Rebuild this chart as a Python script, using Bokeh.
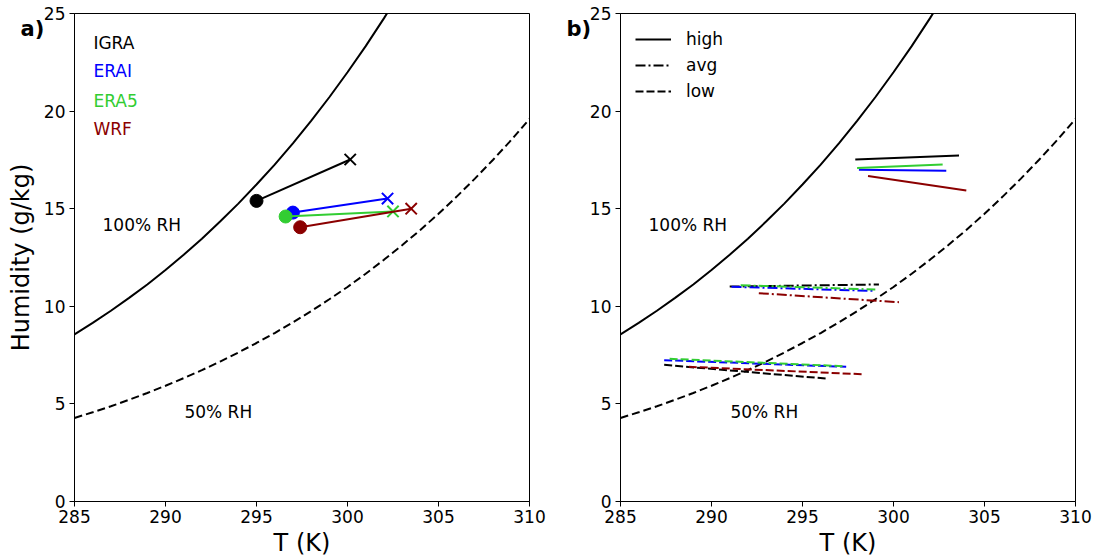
from bokeh.plotting import figure
from bokeh.layouts import row
from bokeh.models import FixedTicker, Legend, LegendItem
from bokeh.embed import file_html
from bokeh.resources import INLINE
from bokeh.core.properties import value

FONT = "DejaVu Sans"

# Saturation curves (1 K steps)
T_grid = [285, 286, 287, 288, 289, 290, 291, 292, 293, 294, 295, 296, 297,
          298, 299, 300, 301, 302, 303, 304, 305, 306, 307, 308, 309, 310]
q_rh100 = [8.56, 9.15, 9.77, 10.43, 11.12, 11.86, 12.64, 13.46, 14.34, 15.26,
           16.24, 17.26, 18.35, 19.50, 20.71, 21.99, 23.33, 24.75, 26.25, 27.83,
           29.49, 31.24, 33.08, 35.01, 37.05, 39.19]
q_rh50 = [4.28, 4.57, 4.88, 5.21, 5.56, 5.93, 6.32, 6.73, 7.17, 7.63, 8.12,
          8.63, 9.18, 9.75, 10.36, 10.99, 11.67, 12.38, 13.13, 13.91, 14.74,
          15.62, 16.54, 17.51, 18.52, 19.60]

datasets = ["IGRA", "ERAI", "ERA5", "WRF"]
colors = ["black", "#0000ff", "#32cd32", "#8b0000"]

# Panel a: start (dot) and end (cross)
T_dot = [295.0, 297.0, 296.6, 297.4]
q_dot = [15.40, 14.80, 14.60, 14.05]
T_x = [300.15, 302.2, 302.5, 303.5]
q_x = [17.52, 15.52, 14.86, 15.00]

# Panel b: high / avg / low segments
high_T0 = [297.9, 298.1, 298.0, 298.6]
high_T1 = [303.6, 302.9, 302.7, 304.0]
high_q0 = [17.52, 16.99, 17.09, 16.67]
high_q1 = [17.72, 16.94, 17.27, 15.93]
avg_T0 = [291.0, 291.1, 291.6, 292.6]
avg_T1 = [299.2, 298.9, 299.0, 300.3]
avg_q0 = [11.01, 11.00, 11.08, 10.67]
avg_q1 = [11.12, 10.79, 10.86, 10.21]
low_T0 = [287.4, 287.4, 287.7, 288.75]
low_T1 = [296.4, 297.4, 297.3, 298.3]
low_q0 = [7.00, 7.24, 7.31, 6.90]
low_q1 = [6.29, 6.90, 6.93, 6.52]

x_ticks = [285, 290, 295, 300, 305, 310]
y_ticks = [0, 5, 10, 15, 20, 25]


def make_fig(border_right, ylabel, letter):
    p = figure(frame_width=455, frame_height=488, x_range=(285, 310), y_range=(0, 25),
               output_backend="svg", toolbar_location=None,
               min_border_left=74, min_border_right=border_right,
               min_border_top=13, min_border_bottom=59)
    p.xgrid.visible = False
    p.ygrid.visible = False
    p.outline_line_color = "black"
    p.outline_line_width = 1
    p.outline_line_alpha = 1
    p.background_fill_color = "white"
    p.border_fill_color = "white"
    # panel letter as title, pushed into the corner
    p.title.text = letter
    p.title.align = "left"
    p.title.vertical_align = "bottom"
    p.title.offset = -54
    p.title.standoff = -54
    p.title.text_font = FONT
    p.title.text_font_size = "21px"
    p.title.text_font_style = "bold"
    p.title.text_color = "black"
    for ax in (p.xaxis[0], p.yaxis[0]):
        ax.major_tick_in = 0
        ax.major_tick_out = 5
        ax.minor_tick_line_color = None
        ax.axis_line_color = "black"
        ax.major_tick_line_color = "black"
        ax.major_label_text_font = FONT
        ax.major_label_text_font_size = "17px"
        ax.major_label_text_color = "black"
        ax.axis_label_text_font = FONT
        ax.axis_label_text_font_size = "24px"
        ax.axis_label_text_font_style = "normal"
        ax.axis_label_text_color = "black"
    p.xaxis.ticker = FixedTicker(ticks=x_ticks)
    p.yaxis.ticker = FixedTicker(ticks=y_ticks)
    p.xaxis.axis_label = "T (K)"
    p.xaxis.major_label_standoff = 3
    p.xaxis.axis_label_standoff = 3
    p.yaxis.major_label_standoff = 4
    p.yaxis.axis_label_standoff = 6
    if ylabel:
        p.yaxis.axis_label = ylabel
    # saturation curves
    p.line(T_grid, q_rh100, line_color="black", line_width=2)
    p.line(T_grid, q_rh50, line_color="black", line_width=2, line_dash="8 4")
    p.text(x=[286.54], y=[14.19], text=["100% RH"], text_font=value(FONT),
           text_font_size="17px", text_baseline="middle", text_align="left", text_color="black")
    p.text(x=[291.04], y=[4.56], text=["50% RH"], text_font=value(FONT),
           text_font_size="17px", text_baseline="middle", text_align="left", text_color="black")
    return p


# ---------- Panel a ----------
pa = make_fig(17, "Humidity (g/kg)", "a)")
for i in range(len(datasets)):
    pa.line([T_dot[i], T_x[i]], [q_dot[i], q_x[i]], line_color=colors[i], line_width=2)
    pa.scatter([T_dot[i]], [q_dot[i]], marker="circle", size=13,
               fill_color=colors[i], line_color=colors[i])
    pa.scatter([T_x[i]], [q_x[i]], marker="x", size=16, line_color=colors[i], line_width=2)

label_y = [23.51, 22.03, 20.54, 19.06]
for i, name in enumerate(datasets):
    pa.text(x=[286.04], y=[label_y[i]], text=[name], text_font=value(FONT),
            text_font_size="17px", text_baseline="middle", text_align="left",
            text_color=colors[i])

# ---------- Panel b ----------
pb = make_fig(21, None, "b)")
styles = [("high", high_T0, high_T1, high_q0, high_q1, "solid"),
          ("avg", avg_T0, avg_T1, avg_q0, avg_q1, "10 3 2 3"),
          ("low", low_T0, low_T1, low_q0, low_q1, "8 3")]
legend_items = []
for name, T0, T1, q0, q1, dash in styles:
    first = None
    for i in range(len(datasets)):
        r = pb.line([T0[i], T1[i]], [q0[i], q1[i]], line_color=colors[i], line_width=2,
                    line_dash=dash)
        if i == 0:
            first = r
    legend_items.append(LegendItem(label=name, renderers=[first]))

leg = Legend(items=legend_items, location="top_left", margin=7, padding=8,
             glyph_width=36, glyph_height=22, label_height=22, spacing=4,
             label_standoff=15, label_text_font=FONT, label_text_font_size="17px",
             label_text_color="black",
             border_line_alpha=0, background_fill_alpha=0)
pb.add_layout(leg)

layout = row(pa, pb)
open("out.html", "w").write(file_html(layout, INLINE))
